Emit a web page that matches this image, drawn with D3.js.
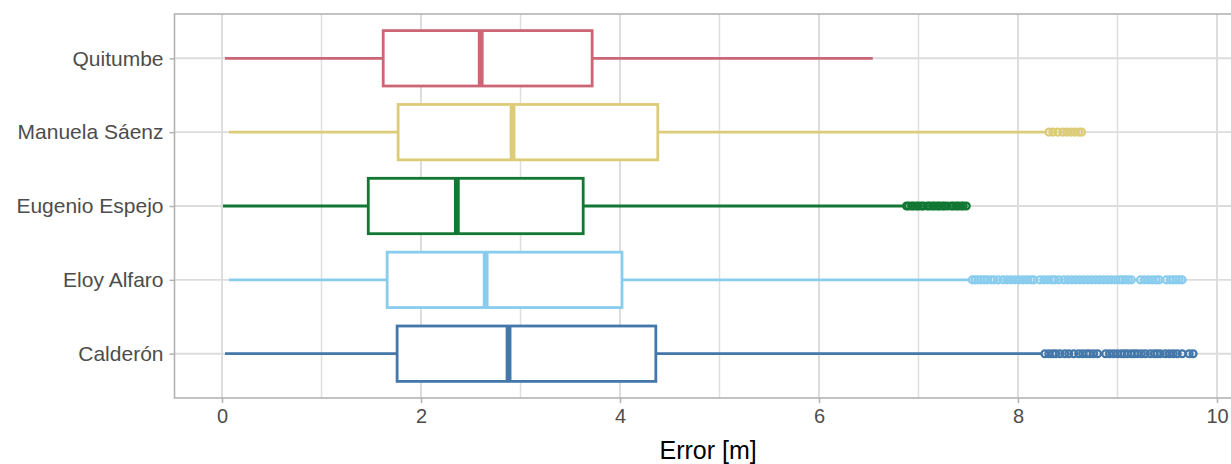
<!DOCTYPE html>
<html>
<head>
<meta charset="utf-8">
<script src="https://cdn.jsdelivr.net/npm/d3@7"></script>
<style>
  html, body { margin: 0; padding: 0; background: #fff; }
  svg { display: block; font-family: "Liberation Sans", Arial, sans-serif; }
</style>
</head>
<body>
<svg id="chart" width="1231" height="464"></svg>
<script>
// ---- data ----
const categories = ["Quitumbe", "Manuela Sáenz", "Eugenio Espejo", "Eloy Alfaro", "Calderón"];
const colors = ["#CC6677", "#DDCC77", "#117733", "#88CCEE", "#4477AA"];
const whiskerLow  = [0.03, 0.07, 0.01, 0.07, 0.03];
const q1          = [1.62, 1.77, 1.47, 1.66, 1.76];
const medians     = [2.60, 2.92, 2.36, 2.65, 2.88];
const q3          = [3.72, 4.38, 3.63, 4.02, 4.36];
const whiskerHigh = [6.54, 8.27, 6.84, 7.50, 8.24];
const outliersQuitumbe = [];
const outliersManuela = [8.31, 8.35, 8.40, 8.45, 8.49, 8.53, 8.57, 8.61, 8.64];
const outliersEugenio = [6.88, 6.90, 6.93, 6.95, 6.98, 7.00, 7.03, 7.05, 7.09, 7.11, 7.14, 7.16, 7.19, 7.21, 7.24, 7.26, 7.29, 7.33, 7.35, 7.38, 7.40, 7.43, 7.45, 7.48];
const outliersEloy = [7.54, 7.57, 7.60, 7.63, 7.66, 7.69, 7.73, 7.76, 7.80, 7.85, 7.89, 7.93, 7.97, 8.01, 8.05, 8.09, 8.13, 8.16, 8.22, 8.26, 8.30, 8.34, 8.37, 8.41, 8.46, 8.50, 8.54, 8.58, 8.62, 8.66, 8.70, 8.74, 8.78, 8.82, 8.86, 8.90, 8.94, 8.98, 9.02, 9.05, 9.08, 9.11, 9.14, 9.23, 9.27, 9.31, 9.35, 9.39, 9.42, 9.49, 9.53, 9.56, 9.59, 9.62, 9.65];
const outliersCalderon = [8.27, 8.31, 8.35, 8.38, 8.42, 8.47, 8.51, 8.56, 8.61, 8.65, 8.69, 8.72, 8.76, 8.80, 8.88, 8.92, 8.96, 9.00, 9.04, 9.07, 9.10, 9.14, 9.17, 9.20, 9.24, 9.28, 9.33, 9.37, 9.40, 9.43, 9.48, 9.52, 9.56, 9.60, 9.65, 9.72, 9.76];
const outliers = [outliersQuitumbe, outliersManuela, outliersEugenio, outliersEloy, outliersCalderon];
const xTicks = [0, 2, 4, 6, 8, 10];
const xMinorTicks = [1, 3, 5, 7, 9];
const xTitle = "Error [m]";

// ---- layout ----
const svg = d3.select("#chart");
const panel = { left: 174.5, top: 14, bottom: 398 };
const dataMin = d3.min(whiskerLow), dataMax = d3.max(outliers.flat().concat(whiskerHigh));
const pad = (dataMax - dataMin) * 0.05;
const x = d3.scaleLinear().domain([0, 10]).range([222, 1217]);
const panelRight = x(dataMax + pad);
const y = d3.scalePoint().domain(categories).range([panel.top, panel.bottom]).padding(0.6);
const boxH = y.step() * 0.75;

const g = svg.append("g");
// grid
g.selectAll(".minor").data(xMinorTicks).join("line")
  .attr("x1", d => x(d)).attr("x2", d => x(d)).attr("y1", panel.top).attr("y2", panel.bottom)
  .attr("stroke", "#dfdfdf").attr("stroke-width", 1.5);
g.selectAll(".major").data(xTicks).join("line")
  .attr("x1", d => x(d)).attr("x2", d => x(d)).attr("y1", panel.top).attr("y2", panel.bottom)
  .attr("stroke", "#dcdcdc").attr("stroke-width", 1.9);
g.selectAll(".hmajor").data(categories).join("line")
  .attr("x1", panel.left).attr("x2", panelRight).attr("y1", d => y(d)).attr("y2", d => y(d))
  .attr("stroke", "#dcdcdc").attr("stroke-width", 1.9);

// axes
const xAxis = d3.axisBottom(x).tickValues(xTicks).tickSize(5).tickPadding(6).tickFormat(d3.format("d"));
const xa = svg.append("g").attr("transform", `translate(0,${panel.bottom})`).call(xAxis);
xa.select(".domain").remove();
xa.selectAll("line").attr("stroke", "#b3b3b3").attr("stroke-width", 1.5);
xa.selectAll("text").attr("fill", "#4d4d4d").attr("font-size", 20).attr("font-family", "Liberation Sans, Arial, sans-serif");

const yAxis = d3.axisLeft(y).tickSize(5).tickPadding(6);
const ya = svg.append("g").attr("transform", `translate(${panel.left},0)`).call(yAxis);
ya.select(".domain").remove();
ya.selectAll("line").attr("stroke", "#b3b3b3").attr("stroke-width", 1.5);
ya.selectAll("text").attr("fill", "#4d4d4d").attr("font-size", 21).attr("font-family", "Liberation Sans, Arial, sans-serif");

// boxes
const rows = categories.map((c, i) => ({ c, col: colors[i], lo: whiskerLow[i], q1: q1[i], med: medians[i], q3: q3[i], hi: whiskerHigh[i], out: outliers[i] }));
const bx = svg.append("g");
rows.forEach(r => {
  const cy = y(r.c);
  bx.append("line").attr("x1", x(r.lo)).attr("x2", x(r.q1)).attr("y1", cy).attr("y2", cy)
    .attr("stroke", r.col).attr("stroke-width", 2.8);
  bx.append("line").attr("x1", x(r.q3)).attr("x2", x(r.hi)).attr("y1", cy).attr("y2", cy)
    .attr("stroke", r.col).attr("stroke-width", 2.8);
  bx.append("rect").attr("x", x(r.q1)).attr("y", cy - boxH / 2).attr("width", x(r.q3) - x(r.q1)).attr("height", boxH)
    .attr("fill", "#fff").attr("stroke", r.col).attr("stroke-width", 2.8);
  bx.append("line").attr("x1", x(r.med)).attr("x2", x(r.med)).attr("y1", cy - boxH / 2).attr("y2", cy + boxH / 2)
    .attr("stroke", r.col).attr("stroke-width", 5.8);
  bx.selectAll(null).data(r.out).join("circle")
    .attr("cx", d => x(d)).attr("cy", cy).attr("r", 3.4)
    .attr("fill", "none").attr("stroke", r.col).attr("stroke-width", 2.3);
});

// panel border
svg.append("rect").attr("x", panel.left).attr("y", panel.top)
  .attr("width", panelRight - panel.left).attr("height", panel.bottom - panel.top)
  .attr("fill", "none").attr("stroke", "#b3b3b3").attr("stroke-width", 1.6);

// title
svg.append("text").attr("x", (panel.left + panelRight) / 2).attr("y", 459)
  .attr("text-anchor", "middle").attr("font-size", 25).attr("fill", "#000").text(xTitle);
</script>
</body>
</html>
